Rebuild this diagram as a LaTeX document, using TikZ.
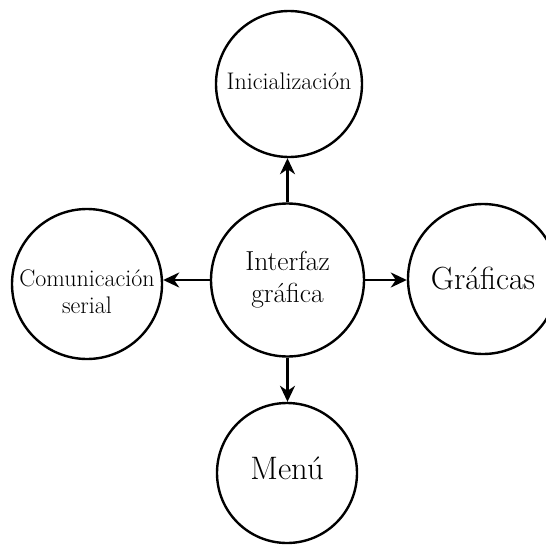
\documentclass[tikz,border=0pt]{standalone}
\usetikzlibrary{arrows.meta}
\begin{document}
\begin{tikzpicture}[x=1pt,y=-1pt,
  bubble/.style={draw,circle,line width=2.4pt,inner sep=0pt,align=center,text=black},
  arr/.style={-{Stealth[length=16pt,width=15pt,inset=5pt]},line width=2.1pt}]
\useasboundingbox[fill=white] (0,0) rectangle (546,544);
\node[bubble,minimum size=153pt,font=\fontsize{27.5}{32}\selectfont] (c) at (287.5,280) {Interfaz\\gráfica};
\node[bubble,minimum size=146pt,font=\fontsize{24}{28}\selectfont] (t) at (289,84) {\raisebox{-5pt}[0pt][0pt]{Inicialización}};
\node[bubble,minimum size=150pt,font=\fontsize{24}{27}\selectfont] (l) at (87,284) {\raisebox{-16.5pt}[0pt][0pt]{\begin{tabular}{@{}c@{}}Comunicación\\serial\end{tabular}}};
\node[bubble,minimum size=150pt,font=\fontsize{32}{36}\selectfont] (r) at (483,279) {Gráficas};
\node[bubble,minimum size=140pt,font=\fontsize{32.5}{36}\selectfont] (b) at (287,473) {\raisebox{-6pt}[0pt][0pt]{Menú}};
\draw[arr] (c.north) -- (c.north |- t.south);
\draw[arr] (c.west) -- (c.west -| l.east);
\draw[arr] (c.east) -- (c.east -| r.west);
\draw[arr] (c.south) -- (c.south |- b.north);
\end{tikzpicture}
\end{document}
